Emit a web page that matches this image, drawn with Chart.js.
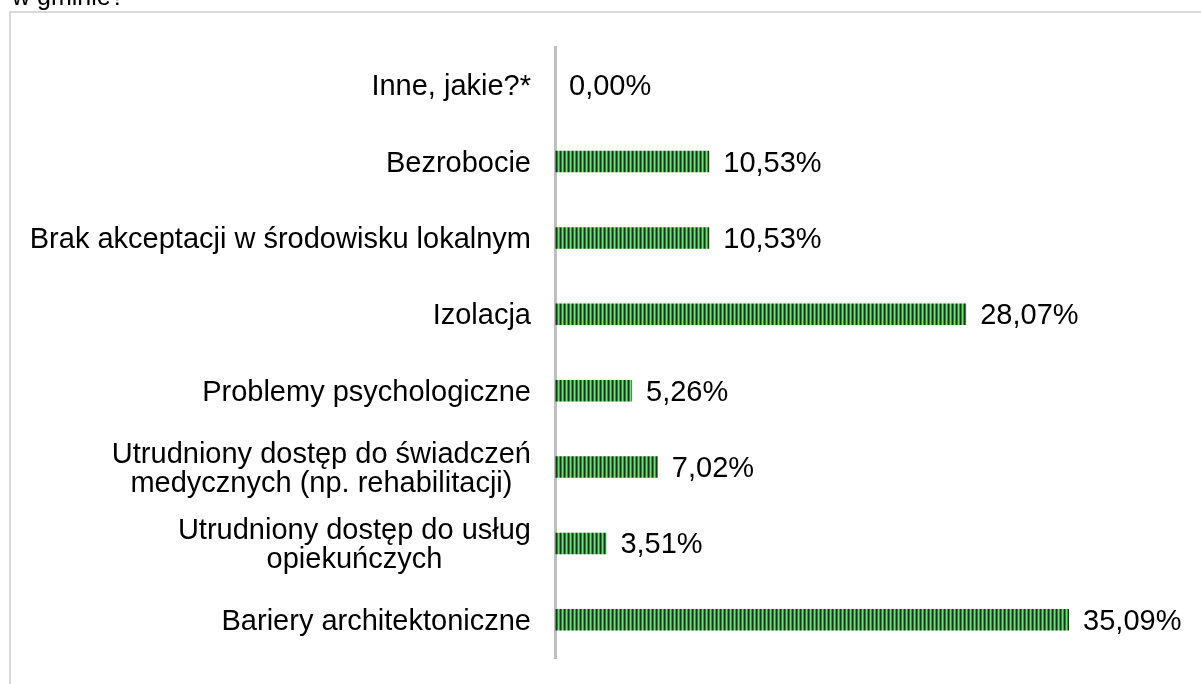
<!DOCTYPE html>
<html>
<head>
<meta charset="utf-8">
<script src="https://cdn.jsdelivr.net/npm/chart.js@4/dist/chart.umd.min.js"></script>
<style>
  html, body { margin: 0; padding: 0; background: #ffffff; overflow: hidden; }
  #wrap { position: relative; width: 1201px; height: 684px; }
</style>
</head>
<body>
<div id="wrap"><canvas id="c" width="1201" height="684"></canvas></div>
<script>
const titleText = 'w gminie?';
const categories = [
  ['Inne, jakie?*'],
  ['Bezrobocie'],
  ['Brak akceptacji w środowisku lokalnym'],
  ['Izolacja'],
  ['Problemy psychologiczne'],
  ['Utrudniony dostęp do świadczeń', 'medycznych (np. rehabilitacji)'],
  ['Utrudniony dostęp do usług', 'opiekuńczych'],
  ['Bariery architektoniczne']
];
const values = [0.00, 10.53, 10.53, 28.07, 5.26, 7.02, 3.51, 35.09];

const FONT = '"Liberation Sans", Arial, sans-serif';

function makePattern() {
  const t = document.createElement('canvas');
  t.width = 4; t.height = 4;
  const g = t.getContext('2d');
  const cols = ['#0d3a10', '#2a8a2f', '#74dd78', '#3a9e3f'];
  cols.forEach((c, i) => { g.fillStyle = c; g.fillRect(i, 0, 1, 4); });
  return g.createPattern(t, 'repeat');
}
const ctx0 = document.getElementById('c').getContext('2d');
const pattern = makePattern();

const decor = {
  id: 'decor',
  beforeDraw(chart) {
    const c = chart.ctx;
    c.save();
    c.fillStyle = '#ffffff';
    c.fillRect(0, 0, chart.width, chart.height);
    c.strokeStyle = '#d9d9d9';
    c.lineWidth = 2;
    c.strokeRect(10, 12, 1200, 700);
    c.fillStyle = '#000000';
    c.font = '25px ' + FONT;
    c.textAlign = 'left';
    c.textBaseline = 'alphabetic';
    c.fillText(titleText, 12, 5);
    c.restore();
  },
  afterDatasetsDraw(chart) {
    const c = chart.ctx;
    const ys = chart.scales.y;
    const meta = chart.getDatasetMeta(0);
    c.save();
    c.fillStyle = '#000000';
    c.font = '29px ' + FONT;
    c.textBaseline = 'middle';
    const lh = 29;
    const rightEdge = 531;
    categories.forEach((lines, i) => {
      const yc = ys.getPixelForValue(i);
      let w = 0;
      lines.forEach(l => { w = Math.max(w, c.measureText(l).width); });
      const cx = rightEdge - w / 2;
      c.textAlign = 'center';
      lines.forEach((l, k) => {
        const y = yc + (k - (lines.length - 1) / 2) * lh;
        c.fillText(l, cx, y + 2);
      });
    });
    meta.data.forEach((bar, i) => {
      const txt = values[i].toFixed(2).replace('.', ',') + '%';
      c.textAlign = 'left';
      c.fillText(txt, bar.x + 14, bar.y + 2);
    });
    c.restore();
  }
};

new Chart(ctx0, {
  type: 'bar',
  data: {
    labels: categories,
    datasets: [{
      data: values,
      backgroundColor: pattern,
      borderWidth: 0,
      barPercentage: 0.54,
      categoryPercentage: 0.52
    }]
  },
  options: {
    indexAxis: 'y',
    responsive: false,
    animation: false,
    devicePixelRatio: 1,
    layout: { padding: { left: 0, top: 47, bottom: 26, right: 60 } },
    plugins: { legend: { display: false }, tooltip: { enabled: false }, title: { display: false } },
    scales: {
      x: { display: false, min: 0, max: 40 },
      y: {
        display: true,
        ticks: { display: false },
        grid: { display: false, drawTicks: false },
        border: { display: true, color: '#bfbfbf', width: 3 },
        afterFit(scale) { scale.width = 555; }
      }
    }
  },
  plugins: [decor]
});
</script>
</body>
</html>
